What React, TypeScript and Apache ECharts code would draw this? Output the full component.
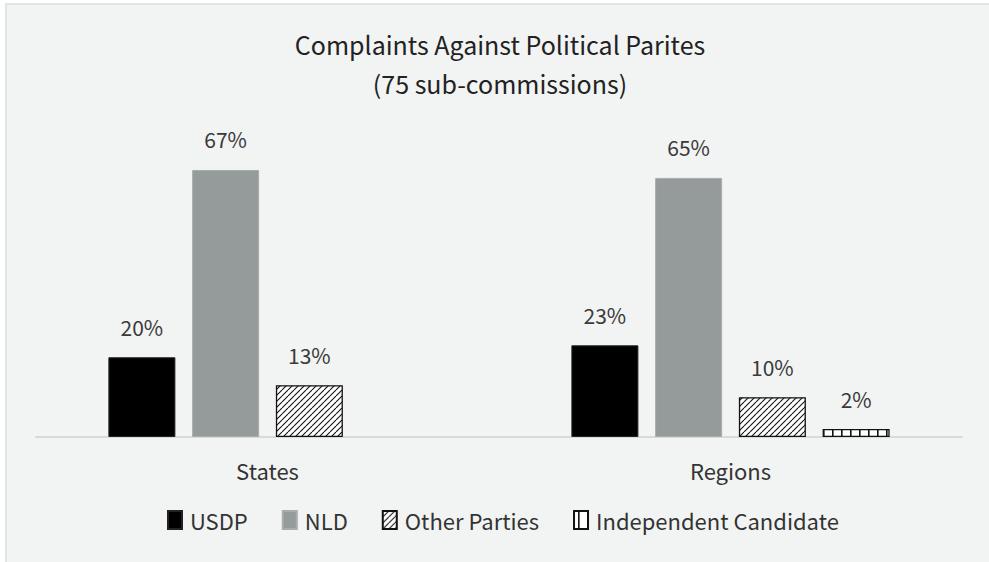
import React, { useEffect, useRef } from "react";
import * as echarts from "echarts";

const categories = ["States", "Regions"];
const seriesNames = ["USDP", "NLD", "Other Parties", "Independent Candidate"];
const usdp = [20, 23];
const nld = [67, 65];
const otherParties = [13, 10];
const independent = [null, 2];
const titleText = "Complaints Against Political Parites\n(75 sub-commissions)";

function makeHatch(): string {
  const c = document.createElement("canvas");
  const s = 6;
  c.width = s;
  c.height = s;
  const ctx = c.getContext("2d")!;
  ctx.fillStyle = "#ffffff";
  ctx.fillRect(0, 0, s, s);
  ctx.strokeStyle = "#111111";
  ctx.lineWidth = 1.1;
  for (const off of [-s, 0, s]) {
    ctx.beginPath();
    ctx.moveTo(off, s);
    ctx.lineTo(off + s, 0);
    ctx.stroke();
  }
  return c.toDataURL();
}

function makeVertical(): string {
  const c = document.createElement("canvas");
  const w = 9;
  const h = 9;
  c.width = w;
  c.height = h;
  const ctx = c.getContext("2d")!;
  ctx.fillStyle = "#ffffff";
  ctx.fillRect(0, 0, w, h);
  ctx.fillStyle = "#111111";
  ctx.fillRect(4, 0, 1.6, h);
  return c.toDataURL();
}

export default function App() {
  const ref = useRef<HTMLDivElement>(null);
  useEffect(() => {
    if (!ref.current) return;
    const chart = echarts.init(ref.current, undefined, { renderer: "svg" });
    const hatch = { image: makeHatch(), repeat: "repeat" } as any;
    const vert = { image: makeVertical(), repeat: "repeat" } as any;
    const font = "'Noto Sans CJK SC', 'Noto Sans', sans-serif";
    const label = {
      show: true,
      position: "top",
      distance: 20,
      formatter: "{c}%",
      fontSize: 21,
      color: "#3a3a3a",
      fontFamily: font,
    };
    chart.setOption({
      animation: false,
      backgroundColor: "#ffffff",
      textStyle: { fontFamily: font },
      graphic: [
        {
          type: "rect",
          z: -10,
          silent: true,
          shape: { x: 6, y: 4, width: 1000, height: 600 },
          style: { fill: "#f2f3f3", stroke: "#e2e3e4", lineWidth: 2 },
        },
      ],
      title: {
        text: titleText,
        left: 500,
        textAlign: "center",
        top: 24,
        padding: 0,
        textStyle: {
          fontSize: 25,
          lineHeight: 39,
          fontWeight: "normal",
          color: "#222222",
          fontFamily: font,
        },
      },
      legend: {
        data: seriesNames,
        top: 509,
        left: 167,
        padding: 0,
        itemWidth: 14,
        itemHeight: 18,
        itemGap: 34,
        icon: "rect",
        textStyle: { fontSize: 22, color: "#333333", fontFamily: font, padding: [0, 0, 0, 3] },
      },
      grid: { left: 36, right: 27, top: 158, bottom: 125 },
      xAxis: {
        type: "category",
        data: categories,
        axisLine: { lineStyle: { color: "#d9d9d9", width: 2 } },
        axisTick: { show: false },
        axisLabel: { fontSize: 22, color: "#333333", margin: 22, fontFamily: font },
      },
      yAxis: { type: "value", min: 0, max: 70, show: false, splitLine: { show: false } },
      series: [
        {
          name: seriesNames[0],
          type: "bar",
          data: usdp,
          barWidth: 67,
          barGap: "25%",
          itemStyle: { color: "#000000", borderColor: "#222222", borderWidth: 1 },
          label,
        },
        {
          name: seriesNames[1],
          type: "bar",
          data: nld,
          barWidth: 67,
          barGap: "25%",
          itemStyle: { color: "#959a9b", borderColor: "#a9adae", borderWidth: 1 },
          label,
        },
        {
          name: seriesNames[2],
          type: "bar",
          data: otherParties,
          barWidth: 67,
          barGap: "25%",
          itemStyle: { color: hatch, borderColor: "#111111", borderWidth: 1.3 },
          label,
        },
        {
          name: seriesNames[3],
          type: "bar",
          data: independent,
          barWidth: 67,
          barGap: "25%",
          itemStyle: { color: vert, borderColor: "#111111", borderWidth: 1.3 },
          label,
        },
      ],
    });
    return () => chart.dispose();
  }, []);
  return (
    <div
      ref={ref}
      style={{ position: "fixed", left: 0, top: 0, width: 989, height: 562 }}
    />
  );
}
